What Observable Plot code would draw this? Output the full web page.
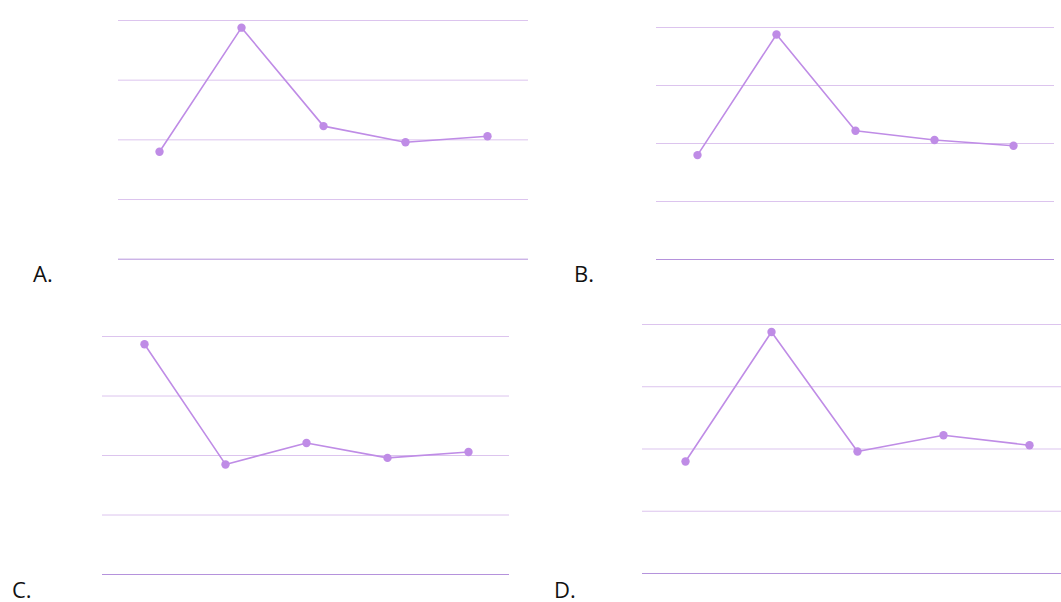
<!DOCTYPE html>
<html>
<head>
<meta charset="utf-8">
<script src="https://cdn.jsdelivr.net/npm/d3@7"></script>
<script src="https://cdn.jsdelivr.net/npm/@observablehq/plot@0.6"></script>
<style>
  html, body { margin: 0; padding: 0; background: #fff; }
  body { width: 1061px; height: 602px; position: relative; overflow: hidden; }
  .panel { position: absolute; }
  .panel svg { max-width: none !important; }
  .label { position: absolute; font-family: "Open Sans", "Liberation Sans", sans-serif; font-size: 22px; line-height: 22px; color: #111; }
</style>
</head>
<body>
<script>
const categories = ["1", "2", "3", "4", "5"];
const seriesA = [1.80, 3.88, 2.23, 1.96, 2.06];
const seriesB = [1.80, 3.88, 2.22, 2.06, 1.96];
const seriesC = [3.87, 1.85, 2.21, 1.96, 2.06];
const seriesD = [1.80, 3.88, 1.96, 2.22, 2.06];
const gridTicks = [1, 2, 3, 4];
const baseTick = [0];
const panelLabels = ["A.", "B.", "C.", "D."];

const lineColor = "#bf8ce6";
const gridColor = "#dcc4ee";
const baseColor = "#b592dc";

const layouts = [
  { x0: 118, x1: 528, y0: 20.3, y1: 259, lx: 33, ly: 262 },
  { x0: 656, x1: 1054, y0: 27.3, y1: 259.3, lx: 574, ly: 262 },
  { x0: 102, x1: 509, y0: 336.3, y1: 574.3, lx: 12, ly: 578 },
  { x0: 641.7, x1: 1072, y0: 324.3, y1: 573.3, lx: 554, ly: 578 }
];
const allSeries = [seriesA, seriesB, seriesC, seriesD];

const m = 10;
allSeries.forEach((vals, i) => {
  const L = layouts[i];
  const data = categories.map((c, j) => ({ cat: c, value: vals[j] }));
  const w = L.x1 - L.x0;
  const h = (L.y1 - L.y0) + 2 * m;
  const chart = Plot.plot({
    width: w,
    height: h,
    marginTop: m, marginBottom: m, marginLeft: 0, marginRight: 0,
    x: { type: "point", domain: categories, padding: 0.5, axis: null },
    y: { domain: [0, 4], axis: null },
    marks: [
      Plot.ruleY(gridTicks, { stroke: gridColor, strokeWidth: 1 }),
      Plot.ruleY(baseTick, { stroke: baseColor, strokeWidth: 1 }),
      Plot.line(data, { x: "cat", y: "value", stroke: lineColor, strokeWidth: 1.6 }),
      Plot.dot(data, { x: "cat", y: "value", fill: lineColor, r: 4.2 })
    ]
  });
  chart.style.maxWidth = "none";
  const div = document.createElement("div");
  div.className = "panel";
  div.style.left = L.x0 + "px";
  div.style.top = (L.y0 - m) + "px";
  div.style.width = w + "px";
  div.style.height = h + "px";
  div.appendChild(chart);
  document.body.appendChild(div);

  const lab = document.createElement("div");
  lab.className = "label";
  lab.style.left = L.lx + "px";
  lab.style.top = L.ly + "px";
  lab.textContent = panelLabels[i];
  document.body.appendChild(lab);
});
</script>
</body>
</html>
